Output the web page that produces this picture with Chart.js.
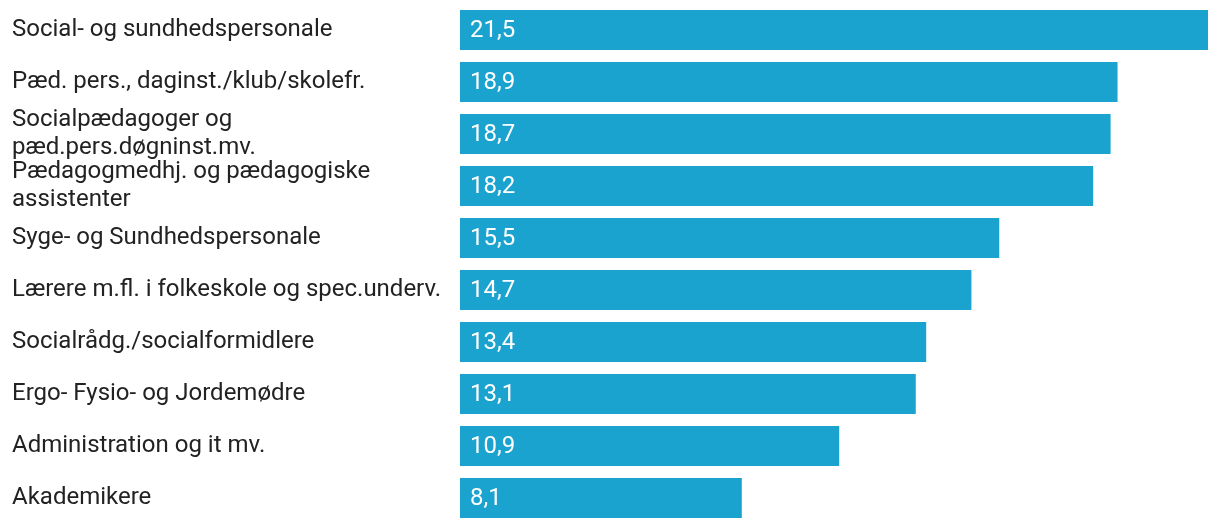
<!DOCTYPE html>
<html>
<head>
<meta charset="utf-8">
<script src="https://cdn.jsdelivr.net/npm/chart.js@4"></script>
<style>
  html, body { margin: 0; padding: 0; background: #fff; }
  #wrap { width: 1220px; height: 528px; }
</style>
</head>
<body>
<div id="wrap"><canvas id="chart"></canvas></div>
<script>
const categories = [
    "Social- og sundhedspersonale",
    "Pæd. pers., daginst./klub/skolefr.",
    ["Socialpædagoger og", "pæd.pers.døgninst.mv."],
    ["Pædagogmedhj. og pædagogiske", "assistenter"],
    "Syge- og Sundhedspersonale",
    "Lærere m.fl. i folkeskole og spec.underv.",
    "Socialrådg./socialformidlere",
    "Ergo- Fysio- og Jordemødre",
    "Administration og it mv.",
    "Akademikere"
];
const values = [21.5, 18.9, 18.7, 18.2, 15.5, 14.7, 13.4, 13.1, 10.9, 8.1];

const barColor = "#1aa3cf";

// writes the value inside the left end of each bar
const valueLabels = {
    id: "valueLabels",
    afterDatasetsDraw(chart) {
        const ctx = chart.ctx;
        const meta = chart.getDatasetMeta(0);
        ctx.save();
        ctx.font = "24px Roboto";
        ctx.fillStyle = "#ffffff";
        ctx.textAlign = "left";
        ctx.textBaseline = "middle";
        meta.data.forEach((bar, i) => {
            const txt = values[i].toFixed(1).replace(".", ",");
            ctx.fillText(txt, bar.base + 10, bar.y + 1);
        });
        ctx.restore();
    }
};

new Chart(document.getElementById("chart"), {
    type: "bar",
    data: {
        labels: categories,
        datasets: [{
            data: values,
            backgroundColor: barColor,
            borderWidth: 0,
            barPercentage: 0.77,
            categoryPercentage: 1.0
        }]
    },
    options: {
        indexAxis: "y",
        responsive: true,
        maintainAspectRatio: false,
        animation: false,
        layout: { padding: { left: 12, top: 4, bottom: 4, right: 12 } },
        scales: {
            x: {
                display: false,
                min: 0,
                max: 21.5
            },
            y: {
                grid: { display: false },
                border: { display: false },
                ticks: {
                    autoSkip: false,
                    crossAlign: "far",
                    color: "#222222",
                    font: { family: "Roboto", size: 24, lineHeight: 1.15 },
                    padding: 0
                },
                afterFit(scale) {
                    scale.width = 448;
                    scale.paddingTop = 0;
                    scale.paddingBottom = 0;
                }
            }
        },
        plugins: {
            legend: { display: false },
            tooltip: { enabled: false }
        }
    },
    plugins: [valueLabels]
});
</script>
</body>
</html>
